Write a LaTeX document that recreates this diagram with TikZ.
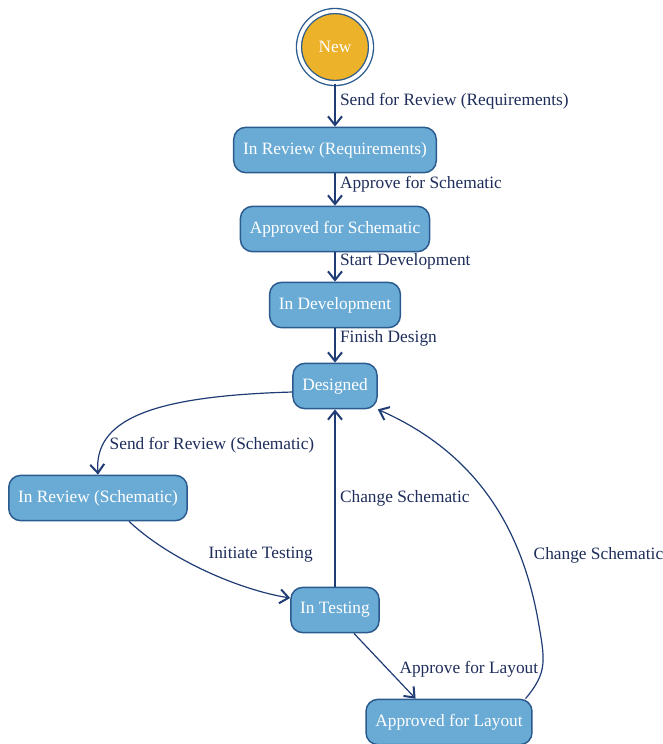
\documentclass[tikz,border=0pt]{standalone}
\usepackage{fontspec}
\setmainfont{Liberation Serif}
\usetikzlibrary{arrows.meta,positioning}

\definecolor{stfill}{HTML}{6AABD5}
\definecolor{stline}{HTML}{2A5A8E}
\definecolor{edgeclr}{HTML}{1F3C74}
\definecolor{lblclr}{HTML}{1E2D5A}
\definecolor{newfill}{HTML}{EBB22A}

\tikzset{
  stbox/.style={draw=stline, fill=stfill, text=white, rounded corners=9pt,
    line width=1.1pt, minimum height=34pt, inner xsep=7pt},
  trans/.style={draw=edgeclr, line width=.9pt,
    -{Straight Barb[length=6.5pt,width=10.5pt,line width=1.5pt]}},
  lbl/.style={text=lblclr, font=\fontsize{13}{15}\selectfont}
}

\begin{document}
\begin{tikzpicture}[x=.75pt, y=-.75pt, font=\fontsize{13}{15}\selectfont]
    \useasboundingbox (0,0) rectangle (663,744);
    % states
    \node[circle, draw=stline, double=white, double distance=2.8pt, line width=1pt,
      fill=newfill, text=white, minimum size=54pt] (new) at (335,47) {New};
    \node[stbox] (revreq) at (335,150) {In Review (Requirements)};
    \node[stbox] (apprsch) at (335,229) {Approved for Schematic};
    \node[stbox] (indev) at (335,305) {In Development};
    \node[stbox] (designed) at (335,386) {Designed};
    \node[stbox] (revsch) at (98,498) {In Review (Schematic)};
    \node[stbox] (intest) at (335,610) {In Testing};
    \node[stbox] (apprlay) at (449,722) {Approved for Layout};
    % transitions
    \draw[trans] (new) -- node[lbl, right, pos=.4] {Send for Review (Requirements)} (revreq);
    \draw[trans] (revreq) -- node[lbl, right, pos=.35] {Approve for Schematic} (apprsch);
    \draw[trans] (apprsch) -- node[lbl, right, pos=.3] {Start Development} (indev);
    \draw[trans] (indev) -- node[lbl, right, pos=.3] {Finish Design} (designed);
    \draw[trans] (designed.188) .. controls (150,396) and (94,420) ..
      node[lbl, pos=.7, anchor=west, xshift=-5pt, yshift=-9pt] {Send for Review (Schematic)} (revsch.north);
    \draw[trans] (revsch.-37) .. controls (170,560) and (240,590) ..
      node[lbl, pos=.5, anchor=south west, yshift=3pt, xshift=-2pt] {Initiate Testing} (intest.165);
    \draw[trans] (intest) -- node[lbl, right] {Change Schematic} (designed);
    \draw[trans] (intest.-51) -- node[lbl, right, pos=.55, xshift=5pt] {Approve for Layout} (apprlay.145);
    \draw[trans] (apprlay.17) .. controls (548,672) and (545,660) .. (538,620)
      .. controls (520,520) and (470,450) .. (designed.south east);
    \node[lbl, anchor=west] (chglbl) at (529,555) {Change Schematic};
\end{tikzpicture}
\end{document}
